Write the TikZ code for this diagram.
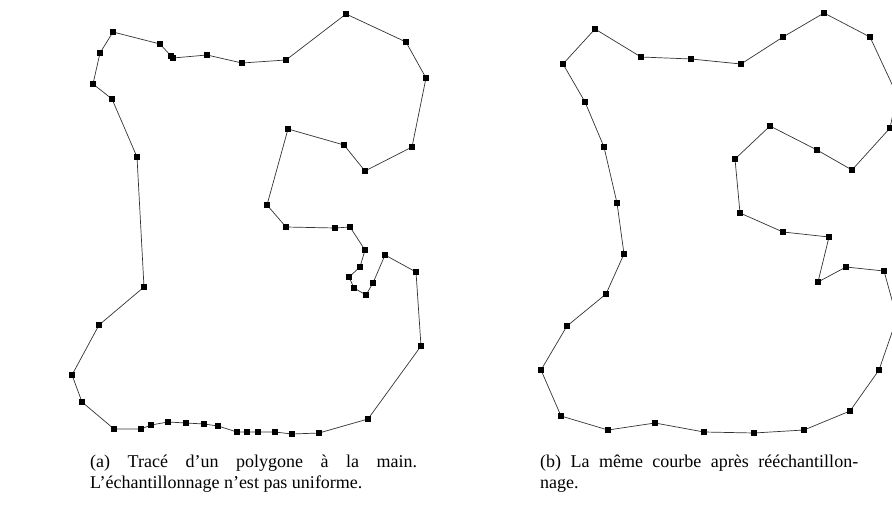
\documentclass[tikz,border=0pt]{standalone}
\usepackage{fontspec}
\setmainfont{Liberation Serif}
\begin{document}
\begin{tikzpicture}[x=1pt,y=-1pt,
  poly/.style={draw=black!80, line width=0.7pt, line join=round},
  vtx/.style={fill=black},
  capt/.style={anchor=north west, inner sep=0pt, text width=#1, align=justify,
     font=\fontsize{18}{21}\selectfont}]
\useasboundingbox (0,0) rectangle (892,527);
\begin{scope}
\clip (0,0) rectangle (892,527);
% (a) hand drawn polygon
\draw[poly] plot coordinates {
(113,32) (160,44) (171,56) (173,58) (207,55) (242,63) (286,60) (346,14) (406,42) (426,78)
(412,147) (365,171) (344,145) (288,129) (267,205) (286,227) (335,228) (350,227) (365,250)
(360,267) (349,277) (354,288) (366,295) (373,283) (385,255) (416,272) (421,346) (368,419)
(319,433) (292,434) (275,432) (258,432) (247,432) (237,432) (218,426) (204,424) (186,423)
(168,422) (151,425) (141,429) (114,429) (82,402) (72,375) (99,325) (144,287) (137,157)
(112,99) (93,84) (100,53) (113,32)};
\foreach \x/\y in {113/32, 160/44, 171/56, 173/58, 207/55, 242/63, 286/60, 346/14, 406/42, 426/78,
412/147, 365/171, 344/145, 288/129, 267/205, 286/227, 335/228, 350/227, 365/250,
360/267, 349/277, 354/288, 366/295, 373/283, 385/255, 416/272, 421/346, 368/419,
319/433, 292/434, 275/432, 258/432, 247/432, 237/432, 218/426, 204/424, 186/423,
168/422, 151/425, 141/429, 114/429, 82/402, 72/375, 99/325, 144/287, 137/157,
112/99, 93/84, 100/53}
  \fill[vtx] (\x-2.9,\y-2.9) rectangle (\x+2.9,\y+2.9);
% (b) resampled polygon
\draw[poly] plot coordinates {
(595,29) (641,57) (691,59) (741,64) (783,37) (824,13) (870,37) (897,95) (890,128) (852,170)
(817,150) (770,126) (735,159) (740,213) (783,232) (829,237) (818,282) (846,267) (884,271)
(897,318) (879,370) (850,411) (804,430) (754,433) (704,432) (655,423) (608,430) (561,416)
(541,370) (567,326) (606,294) (624,254) (617,203) (604,147) (585,102) (563,64) (595,29)};
\foreach \x/\y in {595/29, 641/57, 691/59, 741/64, 783/37, 824/13, 870/37, 897/95, 890/128, 852/170,
817/150, 770/126, 735/159, 740/213, 783/232, 829/237, 818/282, 846/267, 884/271,
897/318, 879/370, 850/411, 804/430, 754/433, 704/432, 655/423, 608/430, 561/416,
541/370, 567/326, 606/294, 624/254, 617/203, 604/147, 585/102, 563/64}
  \fill[vtx] (\x-2.9,\y-2.9) rectangle (\x+2.9,\y+2.9);
\end{scope}
\node[capt=327pt] (capa) at (90,455) {(a) Tracé d’un polygone à la main.\linebreak L’échantillonnage n’est pas uniforme.};
\node[capt=318pt] (capb) at (540,455) {(b) La même courbe après rééchantillon-\linebreak nage.};
\end{tikzpicture}
\end{document}
